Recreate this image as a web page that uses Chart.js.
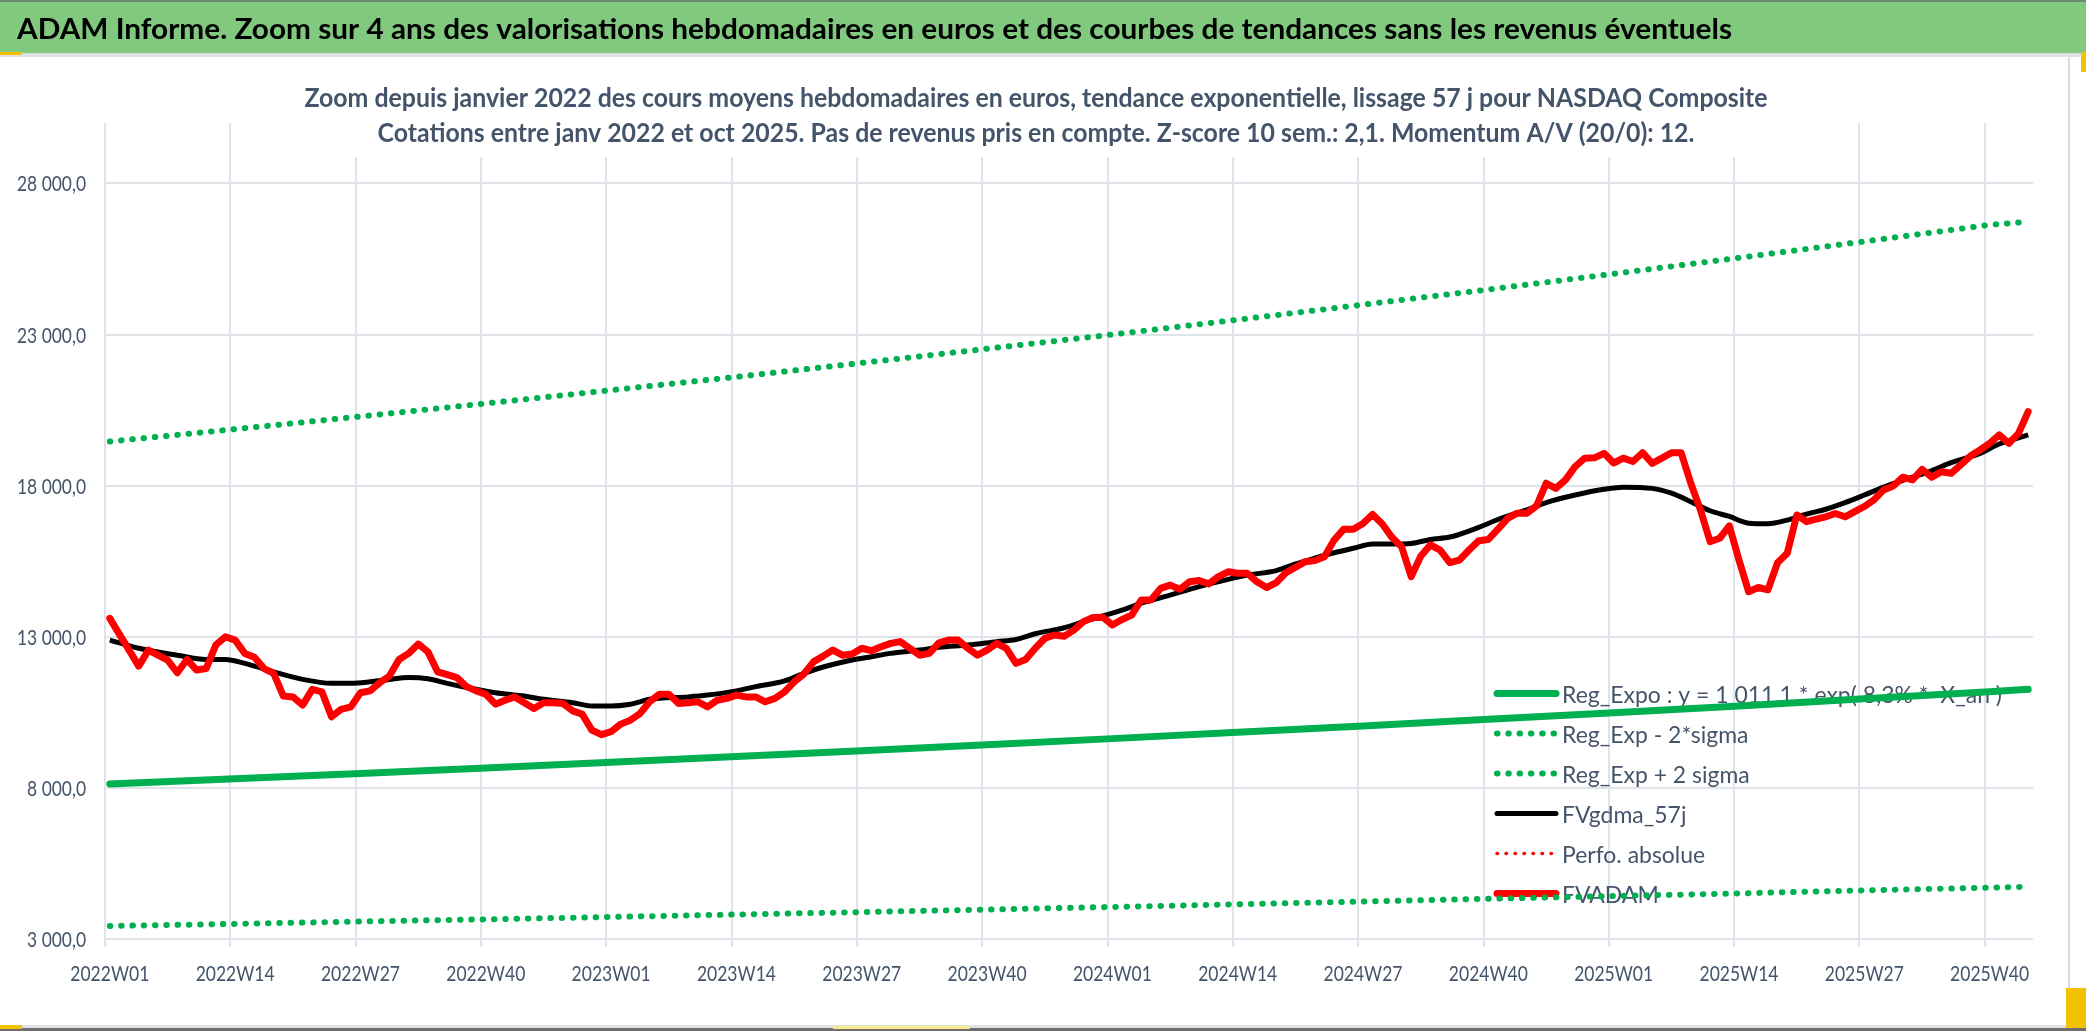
<!DOCTYPE html>
<html>
<head>
<meta charset="utf-8">
<title>ADAM Informe NASDAQ Composite</title>
<script src="https://cdn.jsdelivr.net/npm/chart.js@4.4.0/dist/chart.umd.min.js"></script>
<style>
  html, body { margin: 0; padding: 0; background: #fff; }
  #frame { position: relative; width: 2086px; height: 1031px; overflow: hidden; background: #fff; }
  .mark { position: absolute; }
  #chart { position: absolute; left: 0; top: 0; }
</style>
</head>
<body>
<div id="frame">
  <div class="mark" style="left:0;top:0;width:2086px;height:53px;background:#80c97f;border-top:2px solid #6f8a6f;box-sizing:border-box"></div>
  <div class="mark" style="left:0;top:53px;width:2086px;height:4px;background:#dfe2e7"></div>
  <div class="mark" style="left:0;top:52px;width:22px;height:3px;background:#f2c200"></div>
  <div class="mark" style="left:2068px;top:57px;width:2px;height:968px;background:#d9dce2"></div>
  <div class="mark" style="left:2081px;top:52px;width:5px;height:20px;background:#f2c200"></div>
  <div class="mark" style="left:0;top:1025px;width:2086px;height:3px;background:#dfe2e7"></div>
  <div class="mark" style="left:0;top:1028px;width:2086px;height:3px;background:#6e6e6e"></div>
  <div class="mark" style="left:0;top:1025px;width:22px;height:4px;background:#f2c200"></div>
  <div class="mark" style="left:833px;top:1026px;width:137px;height:3px;background:#f7e98a"></div>
  <div class="mark" style="left:2066px;top:988px;width:20px;height:40px;background:#f2c200"></div>
  <canvas id="chart" width="2086" height="1031"></canvas>
</div>
<script>
'use strict'

/* global Chart */

const FAMILY = 'Lato, "Noto Sans", "DejaVu Sans", sans-serif'
const TEXT_COLOR = '#44546a'
const GRID_COLOR = '#dfe3ea'
const GREEN = '#00b050'
const RED = '#ff0000'

// categories: ISO weeks from 2022W01, one every week
const weekLabels = []
for (let year = 2022; weekLabels.length < 200; year++) {
  for (let w = 1; w <= 52 && weekLabels.length < 200; w++) {
    weekLabels.push(year + 'W' + String(w).padStart(2, '0'))
  }
}

// y axis ticks (Excel starts at 3 000 and steps by 5 000)
const yTicks = [3000, 8000, 13000, 18000, 23000, 28000]

// FVADAM weekly values
const fvadam = [
  13610, 13080, 12560, 12030, 12560, 12390, 12230, 11810, 12250, 11900,
  11950, 12730, 13000, 12890, 12450, 12320, 11950, 11790, 11040, 11010,
  10740, 11260, 11180, 10350, 10600, 10680, 11150, 11210, 11480, 11700,
  12250, 12450, 12760, 12500, 11840, 11750, 11650, 11350, 11210, 11100,
  10770, 10900, 11010, 10820, 10630, 10820, 10820, 10790, 10550, 10440,
  9910, 9760, 9860, 10110, 10240, 10460, 10850, 11100, 11100, 10790,
  10820, 10850, 10680, 10900, 10960, 11070, 11010, 11010, 10850, 10960,
  11180, 11510, 11770, 12170, 12360, 12560, 12390, 12430, 12620, 12540,
  12670, 12780, 12840, 12620, 12390, 12450, 12800, 12890, 12890, 12620,
  12390, 12560, 12780, 12620, 12120, 12250, 12620, 12950, 13060, 13020,
  13220, 13500, 13640, 13650, 13390, 13570, 13720, 14220, 14220, 14600,
  14710, 14570, 14820, 14860, 14750, 14990, 15150, 15100, 15100, 14820,
  14630, 14790, 15120, 15300, 15480, 15520, 15650, 16200, 16560, 16560,
  16750, 17050, 16730, 16290, 15980, 14990, 15670, 16040, 15870, 15450,
  15540, 15870, 16180, 16220, 16560, 16920, 17090, 17090, 17330, 18080,
  17910, 18190, 18630, 18910, 18920, 19070, 18750, 18910, 18800, 19090,
  18740, 18910, 19090, 19090, 18080, 17200, 16150, 16260, 16670, 15540,
  14490, 14630, 14550, 15450, 15760, 17030, 16810, 16890, 16970, 17080,
  16970, 17140, 17310, 17530, 17860, 17990, 18280, 18190, 18540, 18280,
  18460, 18410, 18690, 18980, 19180, 19400, 19680, 19400, 19730, 20450
]

// FVgdma_57j smoothed curve, read at these week indexes
const maWeeks = [
  0, 3, 7, 10, 12, 14, 17, 20, 23, 25, 27, 29, 31, 33, 35, 37, 40, 43, 45, 48,
  50, 52, 54, 56, 60, 62, 65, 67, 70, 72, 74, 77, 79, 81, 84, 86, 89, 92, 94, 96,
  99, 101, 103, 105, 107, 110, 113, 116, 118, 121, 123, 125, 127, 129, 131, 133, 135, 137, 139, 142,
  144, 147, 149, 152, 155, 157, 160, 162, 164, 166, 168, 170, 172, 174, 176, 178, 180, 182, 184, 187,
  189, 191, 194, 196, 199
]
const maValues = [
  12890, 12620, 12390, 12250, 12250, 12120, 11840, 11590, 11460, 11460, 11510, 11590, 11650, 11610, 11460, 11320, 11150, 11040, 10930, 10820,
  10710, 10710, 10770, 10930, 11010, 11070, 11210, 11350, 11540, 11790, 12000, 12230, 12340, 12450, 12560, 12650, 12730, 12840, 12910, 13100,
  13300, 13500, 13690, 13880, 14110, 14380, 14660, 14900, 15040, 15190, 15410, 15600, 15780, 15930, 16070, 16070, 16090, 16220, 16300, 16620,
  16880, 17200, 17440, 17690, 17880, 17950, 17910, 17750, 17470, 17170, 16980, 16760, 16740, 16860, 17060, 17220, 17440, 17690, 17950, 18280,
  18500, 18760, 19070, 19380, 19680
]

// exponential regression and +/- 2 sigma bands, read every 13 weeks
const trendWeeks = [0, 13, 26, 39, 52, 65, 78, 91, 104, 117, 130, 143, 156, 169, 182, 195, 199]
const regExpo = [8130, 8300, 8480, 8660, 8850, 9040, 9230, 9430, 9630, 9840, 10050, 10270, 10490, 10710, 10950, 11180, 11260]
const regMinus = [3430, 3500, 3580, 3650, 3730, 3810, 3890, 3975, 4060, 4150, 4240, 4330, 4420, 4510, 4610, 4700, 4730]
const regPlus = [19460, 19870, 20290, 20720, 21160, 21600, 22060, 22530, 23000, 23490, 23990, 24490, 25010, 25540, 26080, 26630, 26730]

// Perfo. absolue has no visible values on this zoom
const perfoAbsolue = []

const bannerTitle = 'ADAM Informe. Zoom sur 4 ans des valorisations hebdomadaires en euros et des courbes de tendances sans les revenus éventuels'
const titleLines = [
  'Zoom depuis janvier 2022 des cours moyens hebdomadaires en euros, tendance exponentielle, lissage 57 j pour NASDAQ Composite',
  'Cotations entre janv 2022 et oct 2025. Pas de revenus pris en compte. Z-score 10 sem.: 2,1. Momentum A/V (20/0): 12.'
]
const legendLabels = [
  'Reg_Expo : y = 1 011,1 * exp( 8,3% *  X_an )',
  'Reg_Exp - 2*sigma',
  'Reg_Exp + 2 sigma',
  'FVgdma_57j',
  'Perfo. absolue',
  'FVADAM'
]

function formatValue (v) {
  return String(v).replace(/\B(?=(\d{3})+$)/g, ' ') + ',0'
}

function points (weeks, values) {
  return weeks.map((w, k) => ({ x: weekLabels[w], y: values[k] }))
}

// the picture uses a narrow face: draw at the right height, squeezed to the right width
function squeeze (ctx, text, size, weight, width) {
  ctx.font = weight + ' ' + size + 'px ' + FAMILY
  return width / ctx.measureText(text).width
}

function drawText (ctx, text, x, y, size, weight, sx, align, color) {
  ctx.save()
  ctx.font = weight + ' ' + size + 'px ' + FAMILY
  ctx.fillStyle = color
  ctx.textAlign = align
  ctx.textBaseline = 'alphabetic'
  ctx.translate(x, y)
  ctx.scale(sx, 1)
  ctx.fillText(text, 0, 0)
  ctx.restore()
}

const overlayPlugin = {
  id: 'overlay',
  beforeDatasetsDraw (chart) {
    const ctx = chart.ctx
    const xs = chart.scales.x
    const ys = chart.scales.y

    // banner text
    const bSize = 29
    drawText(ctx, bannerTitle, 17, 39, bSize, 'bold', squeeze(ctx, bannerTitle, bSize, 'bold', 1715), 'left', '#000')

    // chart title on a white box, over the grid
    const tSize = 26.5
    const tsx = squeeze(ctx, titleLines[0], tSize, 'bold', 1463)
    const cx = 1036
    const boxW = 1463 + 30
    ctx.save()
    ctx.fillStyle = '#fff'
    ctx.fillRect(cx - boxW / 2, 57, boxW, 100)
    ctx.restore()
    drawText(ctx, titleLines[0], cx, 106.5, tSize, 'bold', tsx, 'center', TEXT_COLOR)
    drawText(ctx, titleLines[1], cx, 141.5, tSize, 'bold', tsx, 'center', TEXT_COLOR)

    // axis labels
    const tickSize = 21.5
    const xsx = squeeze(ctx, '2022W01', tickSize, 'normal', 79)
    for (let i = 0; i < weekLabels.length; i += 13) {
      drawText(ctx, weekLabels[i], xs.getPixelForValue(i), 980.5, tickSize, 'normal', xsx, 'center', TEXT_COLOR)
    }
    const ysx = squeeze(ctx, formatValue(28000), tickSize, 'normal', 69)
    yTicks.forEach((v) => {
      drawText(ctx, formatValue(v), 86, ys.getPixelForValue(v) + 8, tickSize, 'normal', ysx, 'right', TEXT_COLOR)
    })

    // legend inside the plot, drawn under the lines
    const lSize = 23
    const lsx = squeeze(ctx, legendLabels[0], lSize, 'normal', 440)
    chart.data.datasets.forEach((ds, i) => {
      const y = 693.5 + i * 40
      ctx.save()
      ctx.beginPath()
      ctx.lineWidth = ds.borderWidth
      ctx.strokeStyle = ds.borderColor
      ctx.lineCap = 'round'
      ctx.setLineDash(ds.borderDash || [])
      ctx.moveTo(1497, y)
      ctx.lineTo(1556, y)
      ctx.stroke()
      ctx.restore()
      drawText(ctx, legendLabels[i], 1562, y + 9.5, lSize, 'normal', lsx, 'left', TEXT_COLOR)
    })
  }
}

const chart = new Chart(document.getElementById('chart'), {
  type: 'line',
  data: {
    labels: weekLabels,
    datasets: [{
      label: legendLabels[0],
      data: points(trendWeeks, regExpo),
      borderColor: GREEN,
      borderWidth: 7,
      borderCapStyle: 'round',
      order: 5
    }, {
      label: legendLabels[1],
      data: points(trendWeeks, regMinus),
      borderColor: GREEN,
      borderWidth: 6,
      borderDash: [0.5, 10.8],
      borderCapStyle: 'round',
      order: 4
    }, {
      label: legendLabels[2],
      data: points(trendWeeks, regPlus),
      borderColor: GREEN,
      borderWidth: 6,
      borderDash: [0.5, 10.8],
      borderCapStyle: 'round',
      order: 3
    }, {
      label: legendLabels[3],
      data: points(maWeeks, maValues),
      borderColor: '#000000',
      borderWidth: 5,
      cubicInterpolationMode: 'monotone',
      order: 2
    }, {
      label: legendLabels[4],
      data: perfoAbsolue,
      borderColor: RED,
      borderWidth: 3.5,
      borderDash: [0.5, 8.5],
      borderCapStyle: 'round',
      order: 1
    }, {
      label: legendLabels[5],
      data: fvadam,
      borderColor: RED,
      borderWidth: 7,
      borderJoinStyle: 'round',
      borderCapStyle: 'round',
      order: 0
    }]
  },
  options: {
    responsive: false,
    animation: false,
    events: [],
    elements: {
      point: { radius: 0 },
      line: { tension: 0, fill: false, borderJoinStyle: 'round' }
    },
    layout: { padding: { left: 0, right: 53, top: 123, bottom: 0 } },
    plugins: {
      legend: { display: false },
      title: { display: false },
      tooltip: { enabled: false }
    },
    scales: {
      x: {
        type: 'category',
        offset: true,
        border: { display: false },
        grid: {
          offset: true,
          lineWidth: 2,
          tickLength: 8,
          color: (c) => (c.index % 13 === 0 ? GRID_COLOR : 'rgba(0,0,0,0)')
        },
        ticks: { display: false, autoSkip: false },
        afterFit: (scale) => { scale.height = 92 }
      },
      y: {
        min: 3000,
        max: 30000,
        border: { display: false },
        grid: { color: GRID_COLOR, lineWidth: 2, drawTicks: false },
        ticks: { display: false },
        afterBuildTicks: (scale) => { scale.ticks = yTicks.map(v => ({ value: v })) },
        afterFit: (scale) => { scale.width = 105 }
      }
    }
  },
  plugins: [overlayPlugin]
})
</script>
</body>
</html>
